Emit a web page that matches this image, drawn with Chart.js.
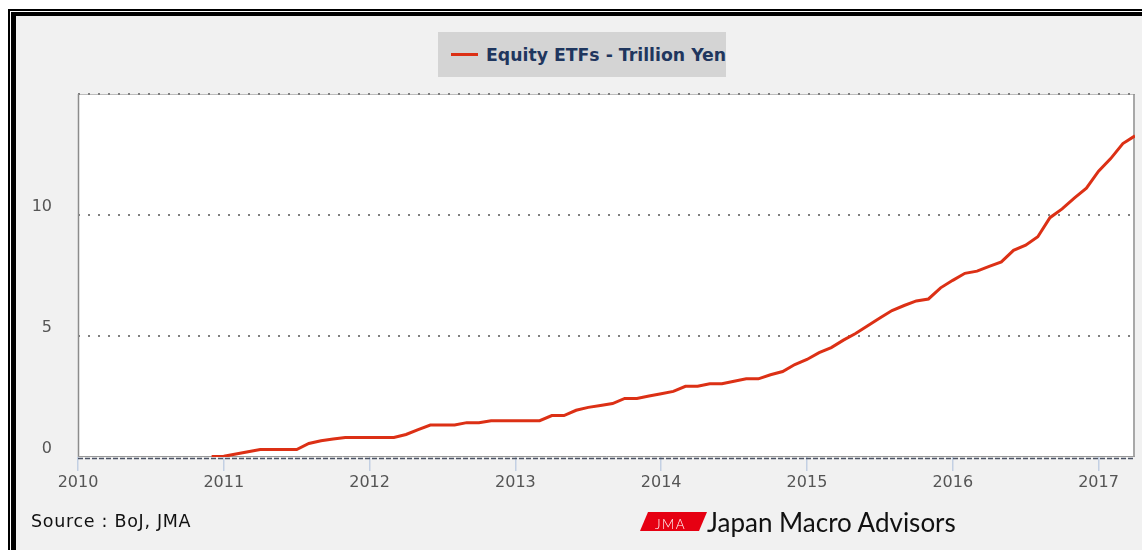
<!DOCTYPE html>
<html>
<head>
<meta charset="utf-8">
<script src="https://cdn.jsdelivr.net/npm/chart.js@4"></script>
<style>
  html, body { margin: 0; padding: 0; background: #fff; }
  body { width: 1142px; height: 550px; position: relative; overflow: hidden; font-family: "DejaVu Sans", sans-serif; }
  .frameOuter { position: absolute; left: 8px; top: 9px; right: -20px; bottom: -20px; border-left: 2px solid #000; border-top: 2px solid #000; }
  .frameInner { position: absolute; left: 11px; top: 12px; right: -20px; bottom: -20px; border-left: 5px solid #000; border-top: 4px solid #000; background: #f1f1f1; }
  #c { position: absolute; left: 0; top: 0; }
  .legend { position: absolute; left: 438px; top: 32px; width: 288px; height: 45px; background: #d4d4d4; overflow: hidden; white-space: nowrap; }
  .legend .swatch { position: absolute; left: 13px; top: 21px; width: 27px; height: 3px; background: #dc3015; }
  .legend .txt { position: absolute; left: 48px; top: 13px; font: bold 17.3px "DejaVu Sans", sans-serif; color: #1f365e; }
  .source { position: absolute; left: 31px; top: 511px; font: 17.5px "DejaVu Sans", sans-serif; letter-spacing: 0.7px; color: #111; white-space: nowrap; }
  .logoMark { position: absolute; left: 640px; top: 512px; width: 67px; height: 19px; background: #e60012; clip-path: polygon(8px 0, 67px 0, 59px 19px, 0 19px); }
  .logoMark span { position: absolute; left: 15px; top: 4px; font: 300 13.5px "Lato", sans-serif; color: #fff; letter-spacing: 1.5px; }
  .logoText { position: absolute; left: 707px; top: 506px; font: 400 26px "Lato", sans-serif; color: #111; white-space: nowrap; }
</style>
</head>
<body>
<div class="frameOuter"></div>
<div class="frameInner"></div>
<canvas id="c" width="1142" height="550"></canvas>
<div class="legend"><div class="swatch"></div><div class="txt">Equity ETFs - Trillion Yen</div></div>
<div class="source">Source : BoJ, JMA</div>
<div class="logoMark"><span>JMA</span></div>
<div class="logoText">Japan Macro Advisors</div>
<script>
// monthly holdings, Dec 2010 .. Apr 2017 (trillion yen)
const startYear = 2010, startMonth = 12;
const etfValues = [0.02,0.03,0.12,0.22,0.31,0.31,0.31,0.31,0.56,0.67,
  0.74,0.81,0.81,0.81,0.81,0.81,0.93,1.13,1.32,1.32,
  1.32,1.42,1.42,1.50,1.50,1.50,1.50,1.50,1.71,1.71,
  1.93,2.05,2.13,2.21,2.42,2.42,2.52,2.61,2.71,2.92,
  2.92,3.03,3.03,3.13,3.23,3.23,3.40,3.53,3.82,4.03,
  4.31,4.52,4.83,5.10,5.42,5.74,6.05,6.26,6.45,6.53,
  6.99,7.30,7.59,7.68,7.88,8.06,8.54,8.75,9.10,9.89,
  10.25,10.70,11.11,11.81,12.33,12.95,13.27];
const yearTicks = [2010,2011,2012,2013,2014,2015,2016,2017];
const yTicks = [0,5,10,15];
const yLabels = ['0','5','10',''];

const points = etfValues.map((v, i) => {
  let mo = startMonth - 1 + i;
  return { x: startYear + Math.floor(mo / 12) + (mo % 12) / 12, y: v };
});
const xMax = points[points.length - 1].x;

const framePlugin = {
  id: 'frame',
  beforeDraw(chart) {
    const a = chart.chartArea, ctx = chart.ctx;
    ctx.save();
    ctx.fillStyle = '#fff';
    ctx.fillRect(a.left, a.top, a.right - a.left, a.bottom - a.top);
    ctx.strokeStyle = '#bdbdbd';
    ctx.lineWidth = 1;
    ctx.beginPath();
    ctx.moveTo(a.left, a.top + 0.5); ctx.lineTo(a.right, a.top + 0.5);
    ctx.stroke();
    ctx.restore();
  },
  beforeDatasetsDraw(chart) {
    const a = chart.chartArea, ctx = chart.ctx;
    ctx.save();
    ctx.strokeStyle = '#8c8c8c';
    ctx.lineWidth = 1.5;
    ctx.beginPath();
    ctx.moveTo(a.left + 0.5, a.top); ctx.lineTo(a.left + 0.5, a.bottom);
    ctx.moveTo(a.right - 1, a.top); ctx.lineTo(a.right - 1, a.bottom);
    ctx.stroke();
    ctx.lineWidth = 1;
    ctx.strokeStyle = '#999';
    ctx.beginPath();
    ctx.moveTo(a.left, a.bottom - 0.5); ctx.lineTo(a.right, a.bottom - 0.5);
    ctx.stroke();
    ctx.strokeStyle = '#4b5366';
    ctx.lineWidth = 1.3;
    ctx.setLineDash([5, 2]);
    ctx.beginPath();
    ctx.moveTo(a.left, a.bottom + 1.5); ctx.lineTo(a.right, a.bottom + 1.5);
    ctx.stroke();
    ctx.restore();
  }
};

new Chart(document.getElementById('c'), {
  type: 'line',
  data: {
    datasets: [{
      label: 'Equity ETFs - Trillion Yen',
      data: points,
      borderColor: '#dc3015',
      borderWidth: 3,
      pointRadius: 0,
      tension: 0,
      fill: false
    }]
  },
  options: {
    responsive: false,
    devicePixelRatio: 1,
    animation: false,
    layout: { padding: { left: 0, top: 94, right: 7, bottom: 53 } },
    plugins: { legend: { display: false }, tooltip: { enabled: false } },
    scales: {
      x: {
        type: 'linear',
        min: 2010,
        max: xMax,
        afterBuildTicks: s => { s.ticks = yearTicks.map(v => ({ value: v })); },
        afterFit: s => { s.height = 40; },
        border: { display: false },
        grid: { drawOnChartArea: false, drawTicks: true, tickLength: 14, color: '#c3d0e3', lineWidth: 1.5 },
        ticks: { padding: 2, color: '#555', font: { family: 'DejaVu Sans', size: 16 }, callback: v => String(v), maxRotation: 0 }
      },
      y: {
        min: 0,
        max: 15,
        afterBuildTicks: s => { s.ticks = yTicks.map(v => ({ value: v })); },
        afterFit: s => { s.width = 78; },
        border: { display: false, dash: [2, 8] },
        grid: {
          drawTicks: false,
          color: c => c.tick && c.tick.value === 0 ? 'rgba(0,0,0,0)' : '#808080',
          lineWidth: 2
        },
        ticks: {
          padding: 26,
          labelOffset: -8,
          color: '#555',
          font: { family: 'DejaVu Sans', size: 16 },
          callback: (v, i) => yLabels[i]
        }
      }
    }
  },
  plugins: [framePlugin]
});
</script>
</body>
</html>
